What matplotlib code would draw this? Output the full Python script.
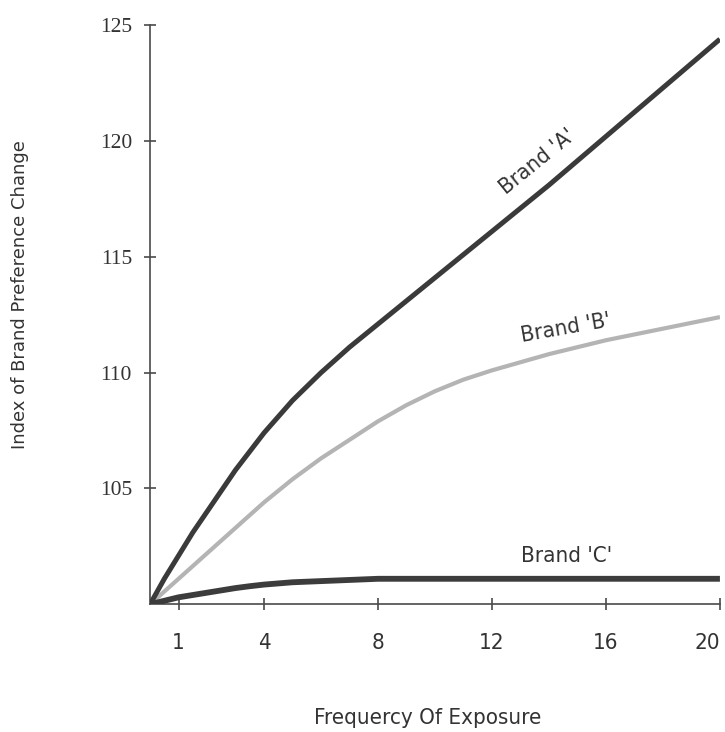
import numpy as np
import matplotlib
matplotlib.use("Agg")
import matplotlib.pyplot as plt

# Valores (frecuencia de exposición vs índice)
frecuencia = [0, 0.5, 1, 1.5, 2, 2.5, 3, 3.5, 4, 4.5, 5, 6, 7, 8, 9, 10,
              11, 12, 14, 16, 18, 20]
marca_a = [100, 101.1, 102.1, 103.1, 104.0, 104.9, 105.8, 106.6, 107.4, 108.1,
           108.8, 110.0, 111.1, 112.1, 113.1, 114.1, 115.1, 116.1, 118.1,
           120.2, 122.3, 124.4]
marca_b = [100, 100.55, 101.1, 101.65, 102.2, 102.75, 103.3, 103.85, 104.4,
           104.9, 105.4, 106.3, 107.1, 107.9, 108.6, 109.2, 109.7, 110.1,
           110.8, 111.4, 111.9, 112.4]
marca_c = [100, 100.15, 100.3, 100.4, 100.5, 100.6, 100.7, 100.78, 100.85,
           100.9, 100.95, 101.0, 101.05, 101.1, 101.1, 101.1, 101.1, 101.1,
           101.1, 101.1, 101.1, 101.1]

ticks_x = [1, 4, 8, 12, 16, 20]
ticks_y = [105, 110, 115, 120, 125]

etiquetas = ["Brand 'A'", "Brand 'B'", "Brand 'C'"]

fuente = dict(family='DejaVu Sans', stretch='condensed')
gris_eje = '#4a4a4a'
gris_texto = '#333333'

fig = plt.figure(figsize=(7.25, 7.32), dpi=100)
ax = fig.add_axes([0.207, 0.1745, 0.786, 0.791])

ax.plot(frecuencia, marca_b, color='#b4b4b4', linewidth=3.0, solid_capstyle='butt', zorder=2)
ax.plot(frecuencia, marca_a, color='#3a3a3a', linewidth=3.6, solid_capstyle='butt', zorder=3)
ax.plot(frecuencia, marca_c, color='#3c3c3c', linewidth=4.2, solid_capstyle='butt', zorder=3)

ax.set_xlim(0, 20)
ax.set_ylim(100, 125)

for lado in ['top', 'right']:
    ax.spines[lado].set_visible(False)
for lado in ['left', 'bottom']:
    ax.spines[lado].set_color(gris_eje)
    ax.spines[lado].set_linewidth(1.2)

ax.set_xticks(ticks_x)
ax.set_xticklabels([str(t) for t in ticks_x], fontsize=16, color=gris_texto, **fuente)
ax.get_xticklabels()[-1].set_ha('right')
ax.set_yticks(ticks_y)
ax.set_yticklabels([str(t) for t in ticks_y], fontsize=15.5, color=gris_texto,
                   family='Liberation Serif')
ax.tick_params(axis='x', direction='inout', length=8, width=1.2, color=gris_eje, pad=17)
ax.tick_params(axis='y', direction='inout', length=8, width=1.2, color=gris_eje, pad=9)

ax.set_xlabel('Frequercy Of Exposure', fontsize=16, color=gris_texto, va='center', **fuente)
ax.xaxis.set_label_coords(0.488, -0.197)
ax.set_ylabel('Index of Brand Preference Change', fontsize=13, color=gris_texto,
              va='center', family='DejaVu Sans')
ax.yaxis.set_label_coords(-0.228, 0.535)

# Etiquetas de cada curva
ax.text(13.6, 119.1, etiquetas[0], rotation=39, ha='center', va='center',
        fontsize=16, color=gris_texto, **fuente)
ax.text(14.6, 111.9, etiquetas[1], rotation=10, ha='center', va='center',
        fontsize=16, color=gris_texto, **fuente)
ax.text(14.6, 102.1, etiquetas[2], rotation=0, ha='center', va='center',
        fontsize=16, color=gris_texto, **fuente)

plt.savefig('out.png', dpi=100)
